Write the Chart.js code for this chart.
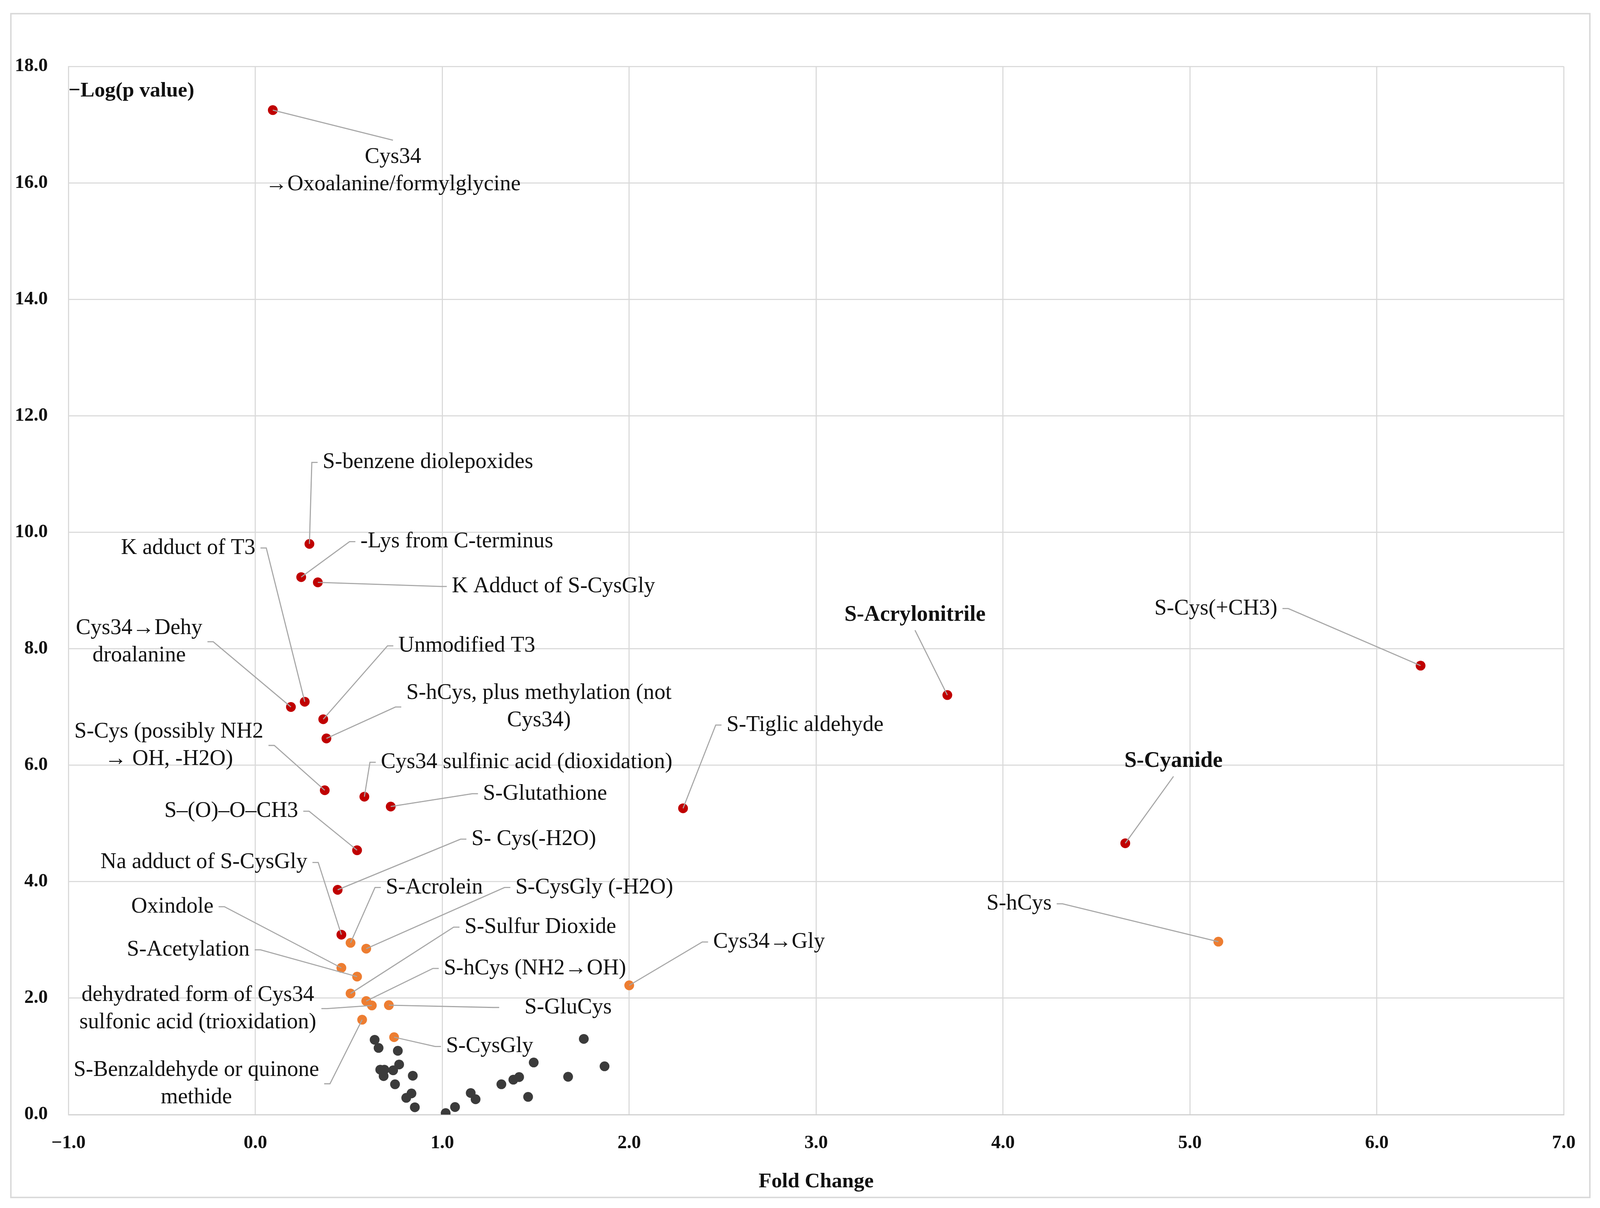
<!DOCTYPE html>
<html>
<head>
<meta charset="utf-8">
<script src="https://cdn.jsdelivr.net/npm/chart.js@4.4.1/dist/chart.umd.min.js"></script>
<style>
html,body{margin:0;padding:0;background:#fff;overflow:hidden}
canvas{display:block}
</style>
</head>
<body>
<canvas id="volcano"></canvas>
<script>
/* ===== data ===== */
const xTicks = [-1, 0, 1, 2, 3, 4, 5, 6, 7];
const yTicks = [0, 2, 4, 6, 8, 10, 12, 14, 16, 18];

// red: strongly changed adducts
const redNames = [
  "Cys34\n\u2192Oxoalanine/formylglycine", "S-benzene diolepoxides", "-Lys from C-terminus",
  "K Adduct of S-CysGly", "K adduct of T3", "Cys34\u2192Dehy\ndroalanine", "Unmodified T3",
  "S-hCys, plus methylation (not\nCys34)", "S-Cys (possibly NH2\n\u2192 OH, -H2O)",
  "Cys34 sulfinic acid (dioxidation)", "S-Glutathione", "S\u2013(O)\u2013O\u2013CH3",
  "S- Cys(-H2O)", "Na adduct of S-CysGly", "S-Tiglic aldehyde", "S-Acrylonitrile",
  "S-Cys(+CH3)", "S-Cyanide"
];
const redFold = [0.093, 0.289, 0.245, 0.334, 0.264, 0.190, 0.363, 0.380, 0.371, 0.583, 0.724, 0.544, 0.440, 0.460, 2.288, 3.702, 6.234, 4.654];
const redLogP = [17.25, 9.80, 9.23, 9.14, 7.09, 7.00, 6.79, 6.46, 5.57, 5.46, 5.29, 4.54, 3.86, 3.09, 5.26, 7.205, 7.71, 4.66];

// orange: moderately changed adducts
const orangeNames = [
  "S-Acrolein", "S-CysGly (-H2O)", "Oxindole", "S-Acetylation", "S-Sulfur Dioxide",
  "S-hCys (NH2\u2192OH)", "dehydrated form of Cys34\nsulfonic acid (trioxidation)", "S-GluCys",
  "S-Benzaldehyde or quinone\nmethide", "S-CysGly", "Cys34\u2192Gly", "S-hCys"
];
const orangeFold = [0.509, 0.593, 0.460, 0.544, 0.509, 0.593, 0.623, 0.714, 0.571, 0.742, 2.00, 5.152];
const orangeLogP = [2.95, 2.85, 2.52, 2.37, 2.08, 1.95, 1.875, 1.88, 1.63, 1.33, 2.22, 2.97];

// dark grey: not significant
const greyFold = [0.638, 0.659, 0.762, 0.769, 0.668, 0.690, 0.686, 0.737, 0.842, 0.747, 0.835, 0.807, 0.853,
  1.018, 1.068, 1.152, 1.178, 1.316, 1.380, 1.411, 1.459, 1.489, 1.673, 1.757, 1.868];
const greyLogP = [1.285, 1.145, 1.096, 0.861, 0.772, 0.772, 0.661, 0.761, 0.668, 0.521, 0.364, 0.288, 0.126,
  0.026, 0.130, 0.371, 0.264, 0.521, 0.600, 0.645, 0.305, 0.895, 0.65, 1.30, 0.83];

/* ===== label placement (axis units): [x, y, align, leader side, bold, extra gap] ===== */
const redLabelAt = [
  [0.736, 16.21, "center", "top"], [0.360, 11.20, "left", "left"], [0.562, 9.84, "left", "left"],
  [1.051, 9.07, "left", "left"], [0.000, 9.73, "right", "right"], [-0.622, 8.12, "center", "right"],
  [0.765, 8.05, "left", "left"], [1.517, 7.00, "center", "left"], [-0.463, 6.34, "center", "right"],
  [0.671, 6.05, "left", "left"], [1.218, 5.51, "left", "left"], [0.229, 5.21, "right", "right"],
  [1.156, 4.73, "left", "left"], [0.278, 4.33, "right", "right"], [2.521, 6.69, "left", "left"],
  [3.529, 8.58, "center", "bottom", true], [5.468, 8.69, "right", "right"], [4.912, 6.07, "center", "bottom", true]
];
const orangeLabelAt = [
  [0.698, 3.90, "left", "left"], [1.391, 3.90, "left", "left"], [-0.224, 3.57, "right", "right"],
  [-0.031, 2.83, "right", "right"], [1.119, 3.22, "left", "left"], [1.008, 2.51, "left", "left"],
  [-0.308, 1.82, "center", "right"], [1.440, 1.84, "left", "left", false, 70], [-0.316, 0.53, "center", "right"],
  [1.020, 1.17, "left", "left"], [2.449, 2.965, "left", "left"], [4.260, 3.62, "right", "right"]
];

/* ===== sizing: laid out on a 4415 x 3092 grid, then stretched to fill the window ===== */
const W = window.innerWidth, H = window.innerHeight;
const kx = W / 4415, ky = H / 3092;
const px = v => v * kx;   // horizontal lengths and font sizes
const py = v => v * ky;   // vertical lengths
const canvas = document.getElementById("volcano");
canvas.style.width = W + "px";
canvas.style.height = H + "px";

const SERIF = '"Liberation Serif", "Times New Roman", serif';
const pts = (xs, ys) => xs.map((v, i) => ({x: v, y: ys[i]}));
const fmt = v => (v < 0 ? "\u2212" : "") + Math.abs(v).toFixed(1);
const GRID = "#d9d9d9";

const framePlugin = {
  id: "frame",
  beforeDraw(chart) {
    const c = chart.ctx;
    c.save();
    c.fillStyle = "#fff";
    c.fillRect(0, 0, chart.width, chart.height);
    c.strokeStyle = GRID;
    c.lineWidth = px(4);
    c.strokeRect(px(30), py(35), px(4357), py(3030));
    c.restore();
  }
};

const LH = 70, GAP = 14, STUB = 16;
function drawLabel(chart, ptX, ptY, name, spec) {
  const c = chart.ctx, {x, y} = chart.scales;
  const [lx, ly, align, side, bold, gap] = spec;
  const lines = name.split("\n");
  const lh = py(LH), g = px(gap || GAP), st = px(STUB);
  c.font = (bold ? "bold " : "") + px(61) + "px " + SERIF;
  const w = Math.max(...lines.map(l => c.measureText(l).width));
  const ax = x.getPixelForValue(lx), ay = y.getPixelForValue(ly);
  const left = align === "left" ? ax : align === "right" ? ax - w : ax - w / 2;
  const top = ay - lines.length * lh / 2;
  let path;
  if (side === "left") path = [[left - g - st, ay], [left - g, ay]];
  else if (side === "right") path = [[left + w + g + st, ay], [left + w + g, ay]];
  else if (side === "top") path = [[left + w / 2, top - py(8)]];
  else path = [[left + w / 2, top + lines.length * lh + py(4)]];

  c.strokeStyle = "#a6a6a6";
  c.lineWidth = px(3);
  c.beginPath();
  c.moveTo(ptX, ptY);
  path.forEach(p => c.lineTo(p[0], p[1]));
  c.stroke();

  c.fillStyle = "#111";
  c.textBaseline = "middle";
  c.textAlign = align;
  lines.forEach((l, i) => c.fillText(l, ax, top + lh / 2 + i * lh));
}

const labelPlugin = {
  id: "adductLabels",
  afterDatasetsDraw(chart) {
    const c = chart.ctx, {x, y} = chart.scales;
    c.save();
    redNames.forEach((n, i) => drawLabel(chart, x.getPixelForValue(redFold[i]), y.getPixelForValue(redLogP[i]), n, redLabelAt[i]));
    orangeNames.forEach((n, i) => drawLabel(chart, x.getPixelForValue(orangeFold[i]), y.getPixelForValue(orangeLogP[i]), n, orangeLabelAt[i]));
    // y axis title sits inside the plot
    c.font = "bold " + px(58) + "px " + SERIF;
    c.fillStyle = "#111";
    c.textAlign = "left";
    c.textBaseline = "middle";
    c.fillText("\u2212Log(p value)", chart.chartArea.left, py(233));
    c.restore();
  }
};

/* ===== chart ===== */
const dot = {pointRadius: px(13.5), pointHoverRadius: px(13.5), borderWidth: 0};
const tickFont = {family: SERIF, size: px(52), weight: "bold"};
new Chart(canvas, {
  type: "scatter",
  data: {
    datasets: [
      {label: "red", data: pts(redFold, redLogP), backgroundColor: "#C00000", ...dot},
      {label: "orange", data: pts(orangeFold, orangeLogP), backgroundColor: "#ED7D31", ...dot},
      {label: "grey", data: pts(greyFold, greyLogP), backgroundColor: "#3b3b3b", ...dot}
    ]
  },
  options: {
    responsive: false,
    maintainAspectRatio: false,
    animation: false,
    layout: {padding: {left: 0, top: py(170), right: W - px(4315), bottom: 0}},
    plugins: {legend: {display: false}, tooltip: {enabled: false}},
    scales: {
      x: {
        type: "linear", min: xTicks[0], max: xTicks[xTicks.length - 1],
        afterBuildTicks: s => { s.ticks = xTicks.map(v => ({value: v})); },
        afterFit: s => { s.height = py(239); },
        ticks: {callback: fmt, font: tickFont, color: "#111", padding: py(45), maxRotation: 0},
        grid: {color: GRID, lineWidth: px(3), drawTicks: false},
        border: {color: "#cfcfcf", width: px(3)},
        title: {display: true, text: "Fold Change", font: {family: SERIF, size: px(58), weight: "bold"}, color: "#111", padding: {top: 0, bottom: py(35)}}
      },
      y: {
        type: "linear", min: yTicks[0], max: yTicks[yTicks.length - 1],
        afterBuildTicks: s => { s.ticks = yTicks.map(v => ({value: v})); },
        afterFit: s => { s.width = px(189); },
        ticks: {callback: fmt, font: tickFont, color: "#111", padding: px(57)},
        grid: {color: GRID, lineWidth: px(3), drawTicks: false},
        border: {color: GRID, width: px(3)}
      }
    }
  },
  plugins: [framePlugin, labelPlugin]
});
</script>
</body>
</html>
